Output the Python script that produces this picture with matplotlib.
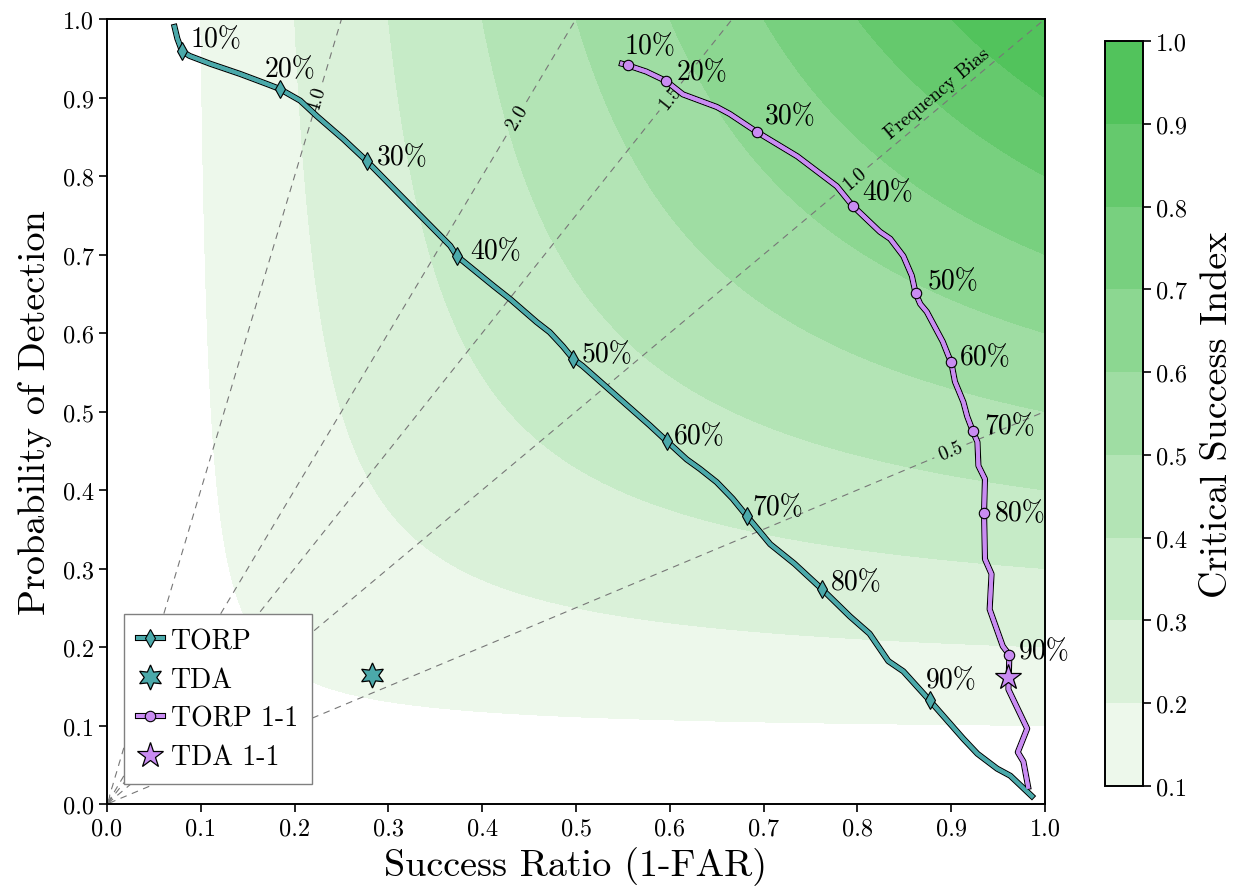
import numpy as np
import matplotlib
matplotlib.use("Agg")
import matplotlib.pyplot as plt
import matplotlib.patheffects as pe
from matplotlib.colors import LinearSegmentedColormap
from matplotlib.legend_handler import HandlerTuple, HandlerLine2D
from matplotlib.lines import Line2D

# TORP curve (success ratio, probability of detection)
torp_sr = [0.072, 0.075, 0.080, 0.088, 0.110, 0.142, 0.171, 0.184, 0.206, 0.224,
           0.252, 0.277, 0.309, 0.366, 0.373, 0.412, 0.430, 0.458, 0.472, 0.486,
           0.497, 0.507, 0.579, 0.597, 0.618, 0.632, 0.650, 0.667, 0.682, 0.707,
           0.733, 0.762, 0.792, 0.813, 0.833, 0.849, 0.877, 0.913, 0.928, 0.949,
           0.963, 0.986]
torp_pod = [0.990, 0.975, 0.959, 0.953, 0.943, 0.930, 0.917, 0.911, 0.896, 0.876,
            0.847, 0.819, 0.780, 0.711, 0.698, 0.660, 0.643, 0.614, 0.601, 0.583,
            0.567, 0.558, 0.482, 0.462, 0.439, 0.427, 0.410, 0.389, 0.367, 0.331,
            0.306, 0.274, 0.239, 0.217, 0.182, 0.169, 0.132, 0.083, 0.064, 0.045,
            0.036, 0.010]
torp_marks = [2, 7, 11, 14, 20, 23, 28, 31, 36]

# TORP 1-1 curve
torp11_sr = [0.549, 0.555, 0.575, 0.596, 0.614, 0.650, 0.664, 0.693, 0.736, 0.778,
             0.795, 0.824, 0.835, 0.849, 0.858, 0.862, 0.867, 0.874, 0.891, 0.897,
             0.900, 0.904, 0.913, 0.917, 0.923, 0.928, 0.929, 0.936, 0.935, 0.936,
             0.943, 0.941, 0.955, 0.962, 0.961, 0.981, 0.971, 0.977, 0.982]
torp11_pod = [0.943, 0.941, 0.933, 0.921, 0.904, 0.888, 0.879, 0.856, 0.825, 0.787,
              0.762, 0.729, 0.720, 0.698, 0.673, 0.651, 0.637, 0.627, 0.589, 0.571,
              0.563, 0.538, 0.512, 0.494, 0.475, 0.461, 0.431, 0.414, 0.371, 0.312,
              0.293, 0.248, 0.201, 0.190, 0.146, 0.096, 0.066, 0.054, 0.022]
torp11_marks = [1, 3, 7, 10, 15, 20, 24, 28, 33]

pct_labels = ["10%", "20%", "30%", "40%", "50%", "60%", "70%", "80%", "90%"]

# single TDA points
tda_sr, tda_pod = 0.283, 0.164
tda11_sr, tda11_pod = 0.961, 0.162

bias_levels = [0.5, 1.0, 1.5, 2.0, 4.0]
csi_levels = [0.1, 0.2, 0.3, 0.4, 0.5, 0.6, 0.7, 0.8, 0.9, 1.0]

# label offsets in pixels (dx, dy)
torp_offsets = [(8, 12), (-15, 20), (10, 4), (13, 5), (8, 5), (7, 5), (6, 9), (9, 7), (-4, 20)]
torp11_offsets = [(-3, 19), (11, 9), (8, 16), (10, 14), (12, 12), (9, 5), (12, 5), (11, 0), (10, 4)]

plt.rcParams["font.family"] = ["cmr10", "DejaVu Serif"]
plt.rcParams["mathtext.fontset"] = "cm"
plt.rcParams["axes.formatter.use_mathtext"] = True

teal = "#4ba9aa"
purple = "#c98cf2"

fig = plt.figure(figsize=(12.45, 8.87), dpi=100)
ax = fig.add_axes([107 / 1245, 82 / 887, 938 / 1245, 785 / 887])
cax = fig.add_axes([1105 / 1245, 100 / 887, 38 / 1245, 745 / 887])

# background CSI and bias fields
g = np.linspace(0.001, 1.0, 500)
SR, POD = np.meshgrid(g, g)
CSI = 1.0 / (1.0 / SR + 1.0 / POD - 1.0)
BIAS = POD / SR

cmap = LinearSegmentedColormap.from_list("csi", ["#edf8eb", "#52c35c"])
fill_colors = [cmap(v) for v in np.linspace(0, 1, len(csi_levels) - 1)]
cf = ax.contourf(SR, POD, CSI, levels=csi_levels, colors=fill_colors)

cs = ax.contour(SR, POD, BIAS, levels=bias_levels, colors="#777777", linewidths=0.8)
cs.set_linestyle((0, (6, 5)))
ax.clabel(cs, fmt="%.1f", fontsize=14, inline=True, colors="black",
          manual=[(0.225, 0.898), (0.438, 0.875), (0.600, 0.901),
                  (0.797, 0.796), (0.899, 0.450)])
ax.text(0.885, 0.905, "Frequency Bias", rotation=40, fontsize=14,
        ha="center", va="center")

outline = [pe.Stroke(linewidth=4.4, foreground="black"), pe.Normal()]

# outlines drawn as separate lines so the markers keep a thin edge
torp_edge, = ax.plot(torp_sr, torp_pod, color=teal, lw=2.8, path_effects=outline, zorder=4)
torp_line, = ax.plot(torp_sr, torp_pod, color=teal, lw=2.8, marker="d", markersize=9,
                     markevery=torp_marks, markerfacecolor=teal,
                     markeredgecolor="black", markeredgewidth=0.8, zorder=5)
tda_pt, = ax.plot(tda_sr, tda_pod, linestyle="none", marker=(6, 1, 0), markersize=18,
                  markerfacecolor=teal, markeredgecolor="black", markeredgewidth=0.9,
                  zorder=6)
torp11_edge, = ax.plot(torp11_sr, torp11_pod, color=purple, lw=2.8, path_effects=outline,
                       zorder=4)
torp11_line, = ax.plot(torp11_sr, torp11_pod, color=purple, lw=2.8, marker="o",
                       markersize=7.5, markevery=torp11_marks, markerfacecolor=purple,
                       markeredgecolor="black", markeredgewidth=0.8, zorder=5)
tda11_pt, = ax.plot(tda11_sr, tda11_pod, linestyle="none", marker="*", markersize=19,
                    markerfacecolor=purple, markeredgecolor="black",
                    markeredgewidth=0.9, zorder=6)

for i, idx in enumerate(torp_marks):
    ax.annotate(pct_labels[i], (torp_sr[idx], torp_pod[idx]),
                xytext=torp_offsets[i], textcoords="offset pixels",
                fontsize=20, ha="left", va="center", zorder=7)
for i, idx in enumerate(torp11_marks):
    ax.annotate(pct_labels[i], (torp11_sr[idx], torp11_pod[idx]),
                xytext=torp11_offsets[i], textcoords="offset pixels",
                fontsize=20, ha="left", va="center", zorder=7)

ax.set_xlim(0, 1)
ax.set_ylim(0, 1)
ax.set_xticks(np.arange(0, 1.01, 0.1))
ax.set_yticks(np.arange(0, 1.01, 0.1))
ax.xaxis.set_major_formatter(plt.FormatStrFormatter("%.1f"))
ax.yaxis.set_major_formatter(plt.FormatStrFormatter("%.1f"))
ax.tick_params(labelsize=17.5, length=6, width=1.2)
for s in ax.spines.values():
    s.set_linewidth(1.4)
ax.set_xlabel("Success Ratio (1-FAR)", fontsize=27.5, labelpad=5)
ax.set_ylabel("Probability of Detection", fontsize=27.5, labelpad=8)


def centre_marker(handle, orig):
    # legend handles: one marker in the middle of the short line
    handle.update_from(orig)
    handle.set_markevery([1])


leg = ax.legend([(torp_edge, torp_line), tda_pt, (torp11_edge, torp11_line), tda11_pt],
                ["TORP", "TDA", "TORP 1-1", "TDA 1-1"],
                handler_map={tuple: HandlerTuple(ndivide=1, pad=0),
                             Line2D: HandlerLine2D(update_func=centre_marker)},
                loc="lower left", bbox_to_anchor=(0.018, 0.025), borderaxespad=0,
                fontsize=20, fancybox=False, framealpha=1, edgecolor="gray",
                handlelength=0.9, handletextpad=0.3, borderpad=0.5, labelspacing=0.45)
leg.get_frame().set_linewidth(1.0)

cb = fig.colorbar(cf, cax=cax, ticks=csi_levels)
cb.ax.yaxis.set_major_formatter(plt.FormatStrFormatter("%.1f"))
cb.ax.tick_params(labelsize=17.5, length=6, width=1.2)
cb.outline.set_linewidth(1.4)
cb.set_label("Critical Success Index", fontsize=27.5, labelpad=10)

fig.savefig("out.png", dpi=100)
